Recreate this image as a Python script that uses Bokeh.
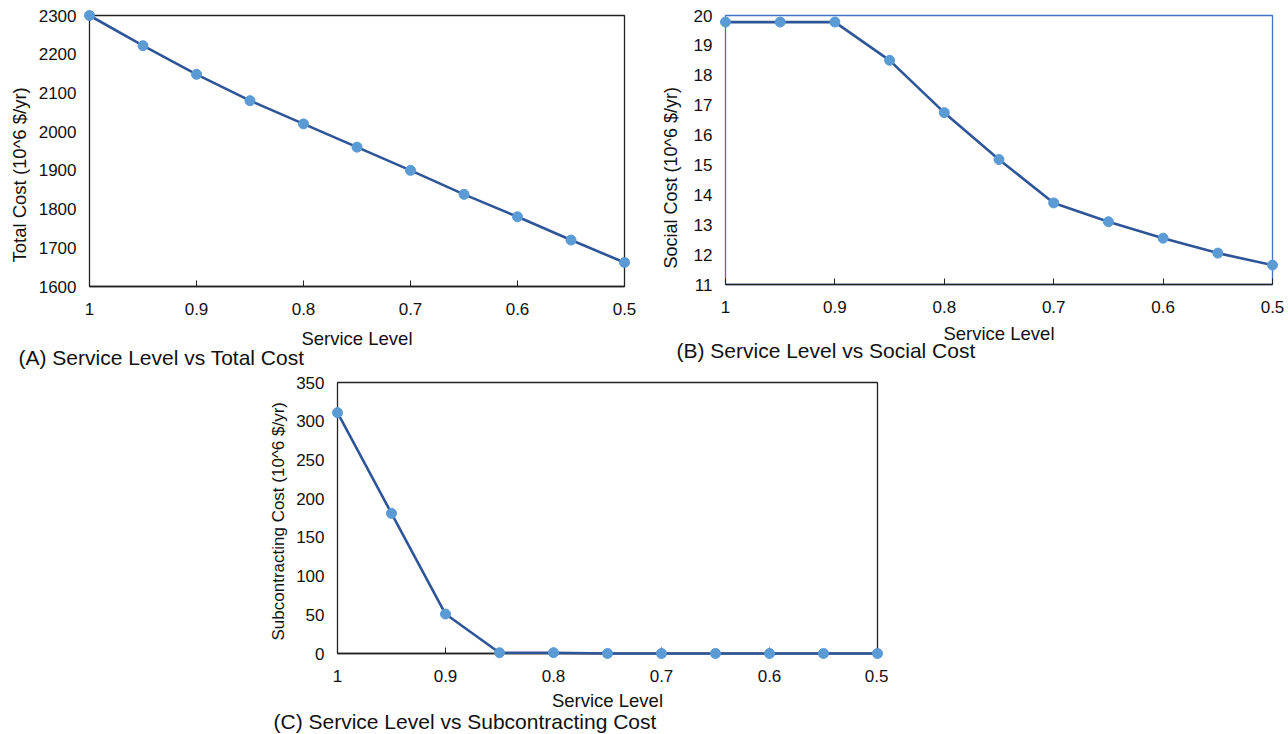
from bokeh.plotting import figure
from bokeh.models import Range1d, FixedTicker, Title, Spacer
from bokeh.layouts import column, row
from bokeh.embed import file_html
from bokeh.resources import INLINE

# ---- data ----
service_level = [1.0, 0.95, 0.9, 0.85, 0.8, 0.75, 0.7, 0.65, 0.6, 0.55, 0.5]
total_cost = [2300, 2222, 2148, 2080, 2020, 1960, 1900, 1838, 1780, 1720, 1662]
social_cost = [19.78, 19.78, 19.78, 18.5, 16.75, 15.18, 13.73, 13.1, 12.55, 12.05, 11.65]
subcontracting_cost = [311, 181, 51, 1, 1, 0, 0, 0, 0, 0, 0]

x_ticks = [1, 0.9, 0.8, 0.7, 0.6, 0.5]
x_tick_labels = ["1", "0.9", "0.8", "0.7", "0.6", "0.5"]
total_ticks = [1600, 1700, 1800, 1900, 2000, 2100, 2200, 2300]
social_ticks = [11, 12, 13, 14, 15, 16, 17, 18, 19, 20]
sub_ticks = [0, 50, 100, 150, 200, 250, 300, 350]

FONT = "Liberation Sans"
LINE = "#2E5597"
MARK = "#5B9BD5"
TXT = "#111111"


def panel(y, yticks, ylabel, caption, left, fw, fh, top, right, bottom,
          outline, ylab_offset, ylab_size, ylab_standoff, xlab_standoff,
          cap_offset, cap_standoff):
    p = figure(frame_width=fw, frame_height=fh,
               min_border_left=left, min_border_right=right,
               min_border_top=top, min_border_bottom=bottom,
               x_range=Range1d(1, 0.5),
               y_range=Range1d(yticks[0], yticks[-1]),
               output_backend="svg", toolbar_location=None,
               background_fill_color="white", border_fill_color="white")
    p.outline_line_color = outline
    p.outline_line_width = 1.3
    p.xgrid.visible = False
    p.ygrid.visible = False

    xa = p.xaxis[0]
    xa.ticker = FixedTicker(ticks=x_ticks)
    xa.major_label_overrides = {t: l for t, l in zip(x_ticks, x_tick_labels)}
    xa.major_tick_in = 6
    xa.major_tick_out = 0
    xa.minor_tick_in = 0
    xa.minor_tick_out = 0
    xa.axis_line_color = "#222222"
    xa.axis_line_width = 1.3
    xa.major_tick_line_color = "#222222"
    xa.major_label_standoff = 16
    xa.major_label_text_font = FONT
    xa.major_label_text_font_size = "17px"
    xa.major_label_text_color = TXT
    xa.axis_label = "Service Level"
    xa.axis_label_text_font = FONT
    xa.axis_label_text_font_size = "18.5px"
    xa.axis_label_text_font_style = "normal"
    xa.axis_label_text_color = TXT
    xa.axis_label_standoff = xlab_standoff

    ya = p.yaxis[0]
    ya.ticker = FixedTicker(ticks=yticks)
    ya.major_tick_in = 0
    ya.major_tick_out = 0
    ya.minor_tick_in = 0
    ya.minor_tick_out = 0
    ya.axis_line_color = None
    ya.major_label_standoff = 13
    ya.major_label_text_font = FONT
    ya.major_label_text_font_size = "17px"
    ya.major_label_text_color = TXT
    ya.axis_label = None

    p.line(service_level, y, line_color=LINE, line_width=2.6, level="overlay")
    p.scatter(service_level, y, size=10, fill_color=MARK, line_color=MARK,
              level="overlay")

    p.add_layout(Title(text=ylabel, align="left", offset=ylab_offset,
                       text_font=FONT, text_font_size=ylab_size,
                       text_font_style="normal", text_color=TXT,
                       standoff=ylab_standoff), "left")
    p.add_layout(Title(text=caption, align="left", offset=cap_offset,
                       vertical_align="top",
                       text_font=FONT, text_font_size="21px",
                       text_font_style="normal", text_color=TXT,
                       standoff=cap_standoff), "below")
    return p


pa = panel(total_cost, total_ticks, "Total Cost (10^6 $/yr)",
           "(A) Service Level vs Total Cost",
           left=88, fw=535, fh=271, top=15, right=17, bottom=84,
           outline="#222222", ylab_offset=24, ylab_size="18.5px",
           ylab_standoff=12, xlab_standoff=10,
           cap_offset=-71, cap_standoff=-12)
pb = panel(social_cost, social_ticks, "Social Cost (10^6 $/yr)",
           "(B) Service Level vs Social Cost",
           left=84, fw=547, fh=269, top=15, right=17, bottom=86,
           outline="#4472C4", ylab_offset=16, ylab_size="18px",
           ylab_standoff=19, xlab_standoff=7,
           cap_offset=-49, cap_standoff=-16)
pc = panel(subcontracting_cost, sub_ticks, "Subcontracting Cost (10^6 $/yr)",
           "(C) Service Level vs Subcontracting Cost",
           left=87, fw=540, fh=271, top=12, right=11, bottom=81,
           outline="#222222", ylab_offset=13, ylab_size="17px",
           ylab_standoff=12, xlab_standoff=5,
           cap_offset=-64, cap_standoff=-8)

layout = column(row(pa, pb), row(Spacer(width=250, height=10), pc))

open("out.html", "w").write(file_html(layout, INLINE))
